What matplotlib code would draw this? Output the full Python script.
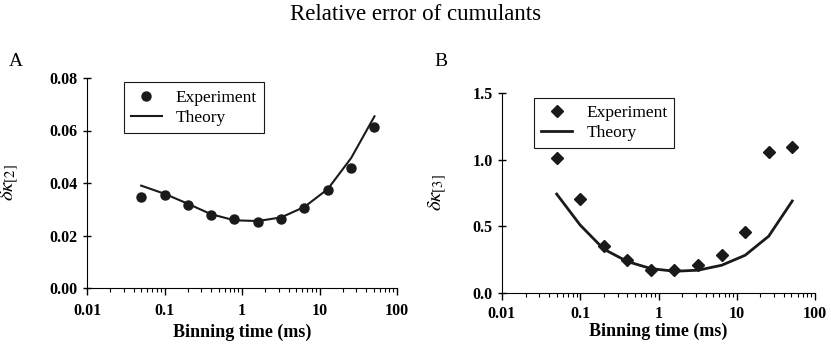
import matplotlib
matplotlib.use('Agg')
import matplotlib.pyplot as plt
from matplotlib.ticker import LogLocator, FuncFormatter

plt.rcParams['font.family'] = ['Liberation Serif', 'DejaVu Serif']
plt.rcParams['mathtext.fontset'] = 'stix'

binning_time = [0.05, 0.1, 0.2, 0.4, 0.8, 1.6, 3.2, 6.4, 12.8, 25.6, 51.2]

exp_k2 = [0.0345, 0.0353, 0.0317, 0.0277, 0.0262, 0.0250, 0.0263, 0.0303, 0.0372, 0.0457, 0.0615]
theory_k2 = [0.0390, 0.0359, 0.0321, 0.0281, 0.0258, 0.0255, 0.0269, 0.0309, 0.0377, 0.0495, 0.0654]

exp_k3 = [1.011, 0.705, 0.354, 0.248, 0.171, 0.171, 0.213, 0.288, 0.459, 1.056, 1.094]
theory_k3 = [0.742, 0.509, 0.329, 0.236, 0.183, 0.163, 0.171, 0.208, 0.283, 0.426, 0.690]

xticks = [0.01, 0.1, 1, 10, 100]
xtick_labels = ['0.01', '0.1', '1', '10', '100']

W, H = 831, 354
fig = plt.figure(figsize=(W / 100, H / 100), dpi=100)
fig.text(0.5, 1 - 14 / H, 'Relative error of cumulants', ha='center', va='center', fontsize=16.5)


def style_axes(ax, tick_pad, label_pad):
    ax.set_xscale('log')
    ax.set_xlim(0.01, 100)
    ax.spines['top'].set_visible(False)
    ax.spines['right'].set_visible(False)
    ax.set_xticks(xticks)
    ax.set_xticklabels(xtick_labels)
    ax.xaxis.set_minor_locator(LogLocator(base=10, subs=range(2, 10)))
    ax.tick_params(axis='x', which='major', direction='out', length=5, width=1, pad=tick_pad)
    ax.tick_params(axis='x', which='minor', direction='out', length=3, width=0.8)
    ax.tick_params(axis='y', which='major', direction='inout', length=6, width=1)
    ax.tick_params(labelsize=11.5)
    for lab in ax.get_xticklabels() + ax.get_yticklabels():
        lab.set_fontweight('bold')
    ax.set_xlabel('Binning time (ms)', fontsize=13, fontweight='bold', labelpad=label_pad)


def add_legend(ax, x0, lw):
    h, l = ax.get_legend_handles_labels()
    leg = ax.legend(h[::-1], l[::-1], loc='upper left', bbox_to_anchor=(x0, 1.02),
                    fontsize=12.5, frameon=True, fancybox=False, edgecolor='#1a1a1a',
                    handlelength=1.8, borderpad=0.4, labelspacing=0.25, framealpha=1)
    leg.get_frame().set_linewidth(lw)


# Panel A
axA = fig.add_axes([87 / W, 1 - 288 / H, 310 / W, 210 / H])
axA.plot(binning_time, theory_k2, color='#1a1a1a', lw=1.5, label='Theory')
axA.plot(binning_time, exp_k2, 'o', color='#1a1a1a', ms=6.5, label='Experiment')
axA.set_ylim(0, 0.08)
axA.set_yticks([0, 0.02, 0.04, 0.06, 0.08])
axA.yaxis.set_major_formatter(FuncFormatter(lambda v, p: f'{v:.2f}'))
style_axes(axA, 6, 3)
axA.set_ylabel(r'$\delta\kappa_{[2]}$', fontsize=15)
axA.yaxis.set_label_coords(-66 / 310, 0.5)
add_legend(axA, 0.09, 0.8)
fig.text(9 / W, 1 - 61 / H, 'A', fontsize=14, va='center')

# Panel B
axB = fig.add_axes([502 / W, 1 - 293 / H, 313 / W, 200 / H])
axB.plot(binning_time, theory_k3, color='#1a1a1a', lw=2, label='Theory')
axB.plot(binning_time, exp_k3, 'D', color='#1a1a1a', ms=6, label='Experiment')
axB.set_ylim(0, 1.5)
axB.set_yticks([0, 0.5, 1.0, 1.5])
axB.yaxis.set_major_formatter(FuncFormatter(lambda v, p: f'{v:.1f}'))
style_axes(axB, 4, 1)
axB.set_ylabel(r'$\delta\kappa_{[3]}$', fontsize=15)
axB.yaxis.set_label_coords(-53 / 313, 0.5)
add_legend(axB, 0.075, 0.8)
fig.text(434 / W, 1 - 61 / H, 'B', fontsize=14, va='center')

fig.savefig('out.png', dpi=100)
